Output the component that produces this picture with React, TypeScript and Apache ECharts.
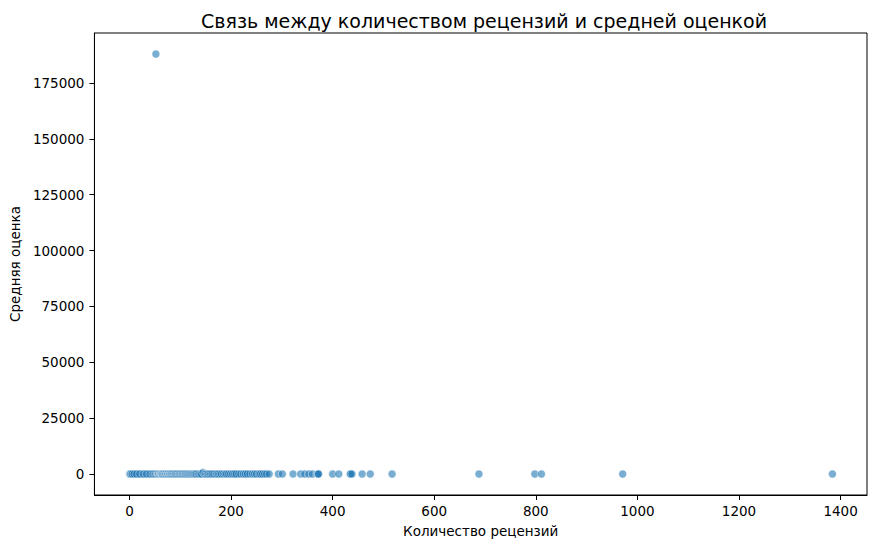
import React, { useEffect, useRef } from "react";
import * as echarts from "echarts";

const titleText = "Связь между количеством рецензий и средней оценкой";
const xAxisTitle = "Количество рецензий";
const yAxisTitle = "Средняя оценка";

const xTicks = [0, 200, 400, 600, 800, 1000, 1200, 1400];
const yTicks = [0, 25000, 50000, 75000, 100000, 125000, 150000, 175000];

// [review count, average rating]
const clusterPoints: [number, number][] = [
  [0, 4.1], [1, 3.8], [2, 4.5], [3, 4.0], [4, 3.6], [5, 4.3], [6, 4.7], [7, 3.9],
  [8, 4.2], [9, 4.4], [10, 3.7], [12, 4.6], [13, 4.1], [14, 3.9], [15, 4.3], [16, 4.0],
  [18, 4.5], [19, 3.8], [20, 4.2], [21, 4.1], [22, 3.6], [24, 4.4], [25, 4.0], [26, 4.3],
  [27, 3.9], [28, 4.6], [30, 4.2], [31, 3.7], [32, 4.1], [33, 4.5], [35, 4.0], [36, 3.8],
  [37, 4.3], [38, 4.2], [40, 4.4], [41, 3.9], [42, 4.1], [43, 4.6], [44, 4.0], [45, 3.7],
  [46, 4.2], [47, 4.3], [48, 3.9], [49, 4.5], [50, 4.1], [51, 4.0], [53, 3.8], [54, 4.4],
];

const clusterRepeats: [number, number][] = [
  [2, 4.0], [5, 4.1], [9, 3.9], [14, 4.2], [20, 4.4], [27, 4.0], [33, 4.2], [40, 3.8],
  [46, 4.1], [50, 4.3], [52, 4.0], [60, 4.2], [70, 4.1], [82, 4.0], [95, 4.3], [108, 4.2],
  [120, 4.0], [133, 4.1], [150, 4.2], [170, 4.0], [205, 4.1], [208, 4.3], [228, 4.0],
  [256, 4.2], [260, 4.1], [372, 4.0], [435, 4.2],
];

const midPoints: [number, number][] = [
  [55, 4.2], [56, 3.9], [57, 4.1], [58, 4.6], [60, 4.0], [61, 4.3], [62, 3.7], [63, 4.2],
  [64, 4.4], [65, 3.9], [67, 4.1], [68, 4.5], [70, 4.0], [71, 3.8], [72, 4.3], [74, 4.2],
  [75, 4.6], [76, 3.9], [78, 4.1], [79, 4.4], [80, 4.0], [82, 3.7], [83, 4.2], [85, 4.3],
  [86, 4.5], [88, 3.9], [90, 4.1], [91, 4.2], [93, 4.0], [95, 4.4], [97, 3.8], [98, 4.3],
  [100, 4.1], [102, 4.5], [104, 4.0], [105, 3.9], [107, 4.2], [109, 4.4], [110, 4.1],
  [112, 3.8], [114, 4.3], [116, 4.0], [118, 4.6], [120, 4.2], [122, 3.9], [124, 4.1],
  [126, 4.4], [128, 4.0], [130, 4.3], [132, 3.7], [135, 4.2], [137, 4.5], [140, 4.1],
  [142, 3.9], [145, 700], [148, 4.0], [150, 4.4], [153, 4.2], [155, 3.8], [158, 4.1],
];

const upperPoints: [number, number][] = [
  [160, 4.3], [163, 4.0], [166, 4.5], [170, 4.2], [172, 3.9], [175, 4.1], [178, 4.4],
  [181, 4.0], [185, 4.2], [188, 3.8], [191, 4.3], [195, 4.1], [199, 4.5], [203, 4.0],
  [207, 4.2], [210, 3.9], [215, 4.4], [219, 4.1], [224, 4.0], [228, 4.3], [232, 4.2],
  [237, 3.8], [242, 4.1], [246, 4.5], [250, 4.0], [255, 4.2], [258, 4.3], [262, 3.9],
  [266, 4.1], [270, 4.4], [275, 4.0], [293, 4.2], [301, 4.1], [322, 3.9], [337, 4.3],
  [345, 4.2], [353, 4.0], [360, 4.4], [371, 4.1], [372, 3.9],
];

const tailPoints: [number, number][] = [
  [400, 4.2], [412, 4.0], [435, 4.3], [438, 4.1], [458, 3.9], [474, 4.4], [517, 4.2],
  [688, 4.1], [798, 4.3], [811, 4.0], [971, 4.2], [1384, 4.1],
];

const outlierPoints: [number, number][] = [[52, 188000]];

const xMin = -69;
const xMax = 1452;
const yMin = -9400;
const yMax = 197400;

const FONT = "DejaVu Sans";

export default function App() {
  const ref = useRef<HTMLDivElement>(null);
  useEffect(() => {
    if (!ref.current) return;
    const chart = echarts.init(ref.current, null, { renderer: "svg" });
    const data = [
      ...clusterPoints,
      ...clusterRepeats,
      ...midPoints,
      ...upperPoints,
      ...tailPoints,
      ...outlierPoints,
    ];
    chart.setOption({
      animation: false,
      backgroundColor: "#ffffff",
      textStyle: { fontFamily: FONT },
      title: {
        text: titleText,
        left: 479,
        top: 6,
        textAlign: "center",
        textStyle: {
          fontFamily: FONT,
          fontSize: 19,
          fontWeight: "normal",
          color: "#000",
        },
      },
      grid: {
        left: 92,
        right: 9,
        top: 33,
        bottom: 53,
        show: true,
        borderColor: "#000",
        borderWidth: 1,
        backgroundColor: "transparent",
      },
      xAxis: {
        type: "value",
        min: xMin,
        max: xMax,
        name: xAxisTitle,
        nameLocation: "middle",
        nameGap: 29,
        nameTextStyle: { fontFamily: FONT, fontSize: 13.5, color: "#000" },
        axisLine: { show: true, onZero: false, lineStyle: { color: "#000", width: 1 } },
        axisTick: {
          show: true,
          length: 5,
          customValues: xTicks,
          lineStyle: { color: "#000", width: 1 },
        },
        axisLabel: {
          customValues: xTicks,
          margin: 9,
          fontFamily: FONT,
          fontSize: 13.5,
          color: "#000",
          formatter: (v: number) => String(v),
        },
        splitLine: { show: false },
      },
      yAxis: {
        type: "value",
        min: yMin,
        max: yMax,
        name: yAxisTitle,
        nameLocation: "middle",
        nameGap: 70,
        nameRotate: 90,
        nameTextStyle: { fontFamily: FONT, fontSize: 13.5, color: "#000" },
        axisLine: { show: true, onZero: false, lineStyle: { color: "#000", width: 1 } },
        axisTick: {
          show: true,
          length: 5,
          customValues: yTicks,
          lineStyle: { color: "#000", width: 1 },
        },
        axisLabel: {
          customValues: yTicks,
          margin: 10,
          fontFamily: FONT,
          fontSize: 13.5,
          color: "#000",
          formatter: (v: number) => String(v),
        },
        splitLine: { show: false },
      },
      series: [
        {
          type: "scatter",
          data,
          symbol: "circle",
          symbolSize: 8,
          itemStyle: {
            color: "#1f77b4",
            opacity: 0.6,
            borderColor: "#ffffff",
            borderWidth: 0.7,
          },
        },
      ],
    });
    return () => chart.dispose();
  }, []);
  return (
    <div
      ref={ref}
      style={{ position: "fixed", left: 0, top: 0, width: 876, height: 548 }}
    />
  );
}
